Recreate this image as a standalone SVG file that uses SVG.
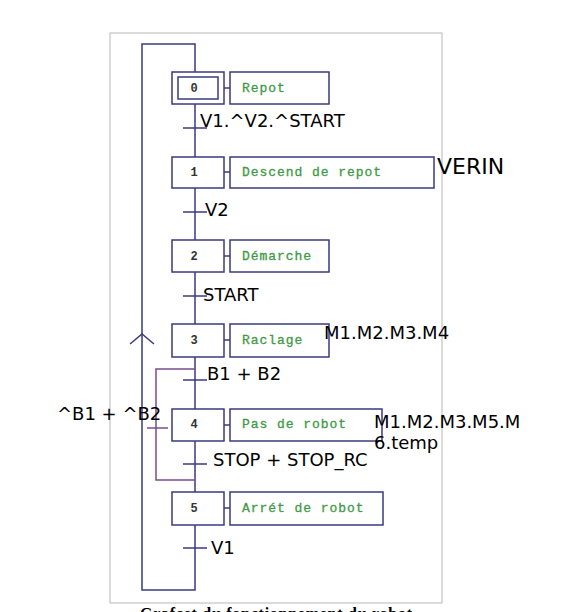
<svg xmlns="http://www.w3.org/2000/svg" width="570" height="612" viewBox="0 0 570 612">
<style>
.ln{stroke:#3b3a80;stroke-width:1.5;fill:none}
.pl{stroke:#7a4d8c;stroke-width:1.5;fill:none}
.bx{stroke:#3b3a80;stroke-width:1.5;fill:#fff}
.num{font-family:"Liberation Mono",monospace;font-size:12px;font-weight:bold;fill:#333;text-anchor:middle}
.act{font-family:"Liberation Mono",monospace;font-size:13px;fill:#3d9a45;letter-spacing:0.95px;stroke:#3d9a45;stroke-width:0.3}
.lb{font-family:"DejaVu Sans",sans-serif;font-size:18px;fill:#000}
</style>
<rect x="0" y="0" width="570" height="612" fill="#fff"/>
<rect x="110" y="33" width="332" height="570" fill="none" stroke="#c4c4c4" stroke-width="1.2"/>
<g id="connectors">
<polyline class="ln" points="195,72 195,44 142,44 142,590 195,590 195,525"/>
<polyline class="ln" points="130,344 142,334 154,344"/>
<line class="ln" x1="195" y1="104" x2="195" y2="157"/>
<line class="ln" x1="195" y1="188" x2="195" y2="240"/>
<line class="ln" x1="195" y1="272" x2="195" y2="324"/>
<line class="ln" x1="195" y1="357" x2="195" y2="409"/>
<line class="ln" x1="195" y1="441" x2="195" y2="492"/>
<line class="ln" x1="183" y1="128" x2="207" y2="128"/>
<line class="ln" x1="183" y1="212" x2="207" y2="212"/>
<line class="ln" x1="183" y1="296" x2="207" y2="296"/>
<line class="ln" x1="183" y1="380" x2="207" y2="380"/>
<line class="ln" x1="183" y1="464" x2="207" y2="464"/>
<line class="ln" x1="183" y1="548" x2="207" y2="548"/>
<polyline class="pl" points="195,369 156,369 156,480 195,480"/>
<line class="pl" x1="147" y1="428" x2="168" y2="428"/>
<line class="ln" x1="224" y1="88" x2="230" y2="88"/>
<line class="ln" x1="224" y1="172" x2="230" y2="172"/>
<line class="ln" x1="224" y1="256" x2="230" y2="256"/>
<line class="ln" x1="224" y1="340" x2="230" y2="340"/>
<line class="ln" x1="224" y1="425" x2="230" y2="425"/>
<line class="ln" x1="224" y1="508" x2="230" y2="508"/>
</g>
<g id="step0">
<rect class="bx" x="172" y="72" width="52" height="32"/>
<rect class="bx" x="178" y="77" width="40" height="22"/>
<text class="num" x="194" y="92">0</text>
<rect class="bx" x="230" y="72" width="99" height="32"/>
<text class="act" x="242" y="92">Repot</text>
</g>
<g id="step1">
<rect class="bx" x="172" y="157" width="52" height="31"/>
<text class="num" x="194" y="176">1</text>
<rect class="bx" x="230" y="157" width="204" height="31"/>
<text class="act" x="242" y="176">Descend de repot</text>
</g>
<g id="step2">
<rect class="bx" x="172" y="240" width="52" height="32"/>
<text class="num" x="194" y="260">2</text>
<rect class="bx" x="230" y="240" width="99" height="32"/>
<text class="act" x="242" y="260">Démarche</text>
</g>
<g id="step3">
<rect class="bx" x="172" y="324" width="52" height="33"/>
<text class="num" x="194" y="344">3</text>
<rect class="bx" x="230" y="324" width="99" height="33"/>
<text class="act" x="242" y="344">Raclage</text>
</g>
<g id="step4">
<rect class="bx" x="172" y="409" width="52" height="32"/>
<text class="num" x="194" y="428">4</text>
<rect class="bx" x="230" y="409" width="152" height="32"/>
<text class="act" x="242" y="428">Pas de robot</text>
</g>
<g id="step5">
<rect class="bx" x="172" y="492" width="52" height="33"/>
<text class="num" x="194" y="512">5</text>
<rect class="bx" x="230" y="492" width="153" height="33"/>
<text class="act" x="242" y="512">Arrét de robot</text>
</g>
<g id="labels">
<text class="lb" x="200" y="127">V1.^V2.^START</text>
<text class="lb" x="437" y="174" style="font-size:22px">VERIN</text>
<text class="lb" x="205" y="216">V2</text>
<text class="lb" x="203" y="301">START</text>
<text class="lb" x="324" y="339">M1.M2.M3.M4</text>
<text class="lb" x="207" y="380">B1 + B2</text>
<text class="lb" x="57" y="420">^B1 + ^B2</text>
<text class="lb" x="374" y="428">M1.M2.M3.M5.M</text>
<text class="lb" x="374" y="449">6.temp</text>
<text class="lb" x="213" y="466">STOP + STOP_RC</text>
<text class="lb" x="211" y="554">V1</text>
</g>
<text x="276" y="619" font-family="Liberation Serif,serif" font-weight="bold" font-size="16" text-anchor="middle" textLength="272">Grafcet du fonctionnement du robot</text>
</svg>
